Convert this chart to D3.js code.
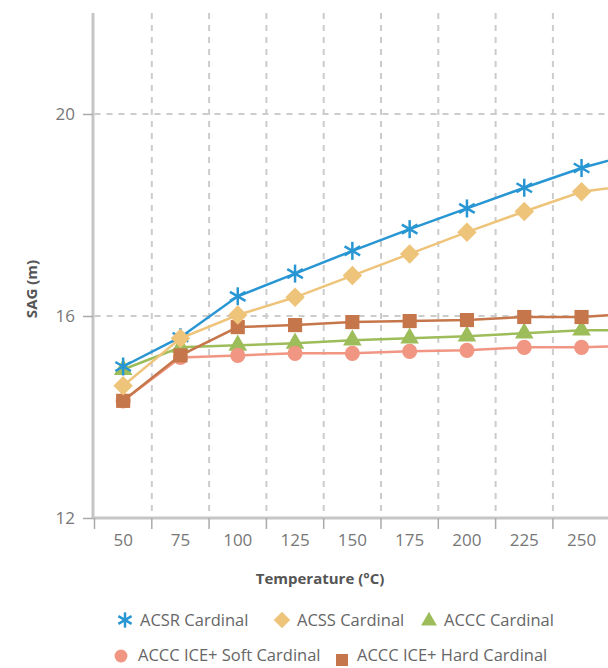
<!DOCTYPE html>
<html>
<head>
<meta charset="utf-8">
<script src="https://cdn.jsdelivr.net/npm/d3@7"></script>
<style>
  html, body { margin: 0; padding: 0; background: #fff; overflow: hidden; }
  svg { display: block; font-family: "Open Sans", "Noto Sans", sans-serif; }
</style>
</head>
<body>
<svg id="chart" width="608" height="668"></svg>
<script>
// ---- data ----
const temperatures = [50, 75, 100, 125, 150, 175, 200, 225, 250, 275];
const acsrCardinal = [15.00, 15.58, 16.39, 16.84, 17.29, 17.72, 18.13, 18.54, 18.93, 19.24];
const acssCardinal = [14.62, 15.56, 16.02, 16.37, 16.80, 17.23, 17.66, 18.07, 18.46, 18.61];
const acccCardinal = [14.94, 15.38, 15.42, 15.46, 15.52, 15.56, 15.60, 15.66, 15.72, 15.72];
const iceSoftCardinal = [14.32, 15.18, 15.22, 15.26, 15.26, 15.30, 15.32, 15.38, 15.38, 15.42];
const iceHardCardinal = [14.32, 15.22, 15.78, 15.82, 15.88, 15.90, 15.92, 15.98, 15.98, 16.06];
const xTickLabels = [50, 75, 100, 125, 150, 175, 200, 225, 250];
const yTicks = [12, 16, 20];
const seriesNames = ["ACSR Cardinal", "ACSS Cardinal", "ACCC Cardinal", "ACCC ICE+ Soft Cardinal", "ACCC ICE+ Hard Cardinal"];

const series = [
  { name: seriesNames[2], values: acccCardinal, color: "#9dbd5b", symbol: "triangle" },
  { name: seriesNames[3], values: iceSoftCardinal, color: "#f09682", symbol: "circle" },
  { name: seriesNames[4], values: iceHardCardinal, color: "#c6764b", symbol: "square" },
  { name: seriesNames[0], values: acsrCardinal, color: "#2896d3", symbol: "asterisk" },
  { name: seriesNames[1], values: acssCardinal, color: "#eec47a", symbol: "diamond" }
];

const svg = d3.select("#chart").style("overflow", "hidden");
const left = 94.5, step = 57.3;
const x = d3.scaleBand().domain(temperatures).range([left, left + step * temperatures.length]).padding(0);
const y = d3.scaleLinear().domain([12, 22]).range([518, 13]);

const gridColor = "#cccccc";
const axisColor = "#c6c6c6";

// gridlines
const grid = svg.append("g");
grid.selectAll("line.v").data(temperatures.slice(1)).join("line")
  .attr("x1", d => x(d)).attr("x2", d => x(d))
  .attr("y1", y(22)).attr("y2", y(12))
  .attr("stroke", gridColor).attr("stroke-width", 2).attr("stroke-dasharray", "6,6");
grid.selectAll("line.h").data(yTicks.filter(t => t !== 12)).join("line")
  .attr("x1", left).attr("x2", 700)
  .attr("y1", d => y(d)).attr("y2", d => y(d))
  .attr("stroke", gridColor).attr("stroke-width", 2).attr("stroke-dasharray", "6,6");

// y axis
const yAxis = svg.append("g").attr("transform", `translate(${93},0)`)
  .call(d3.axisLeft(y).tickValues(yTicks).tickSize(10).tickPadding(8));
yAxis.select(".domain").attr("stroke", axisColor).attr("stroke-width", 3).attr("d", `M0,${y(22)}V${y(12)}`);
yAxis.selectAll(".tick line").attr("stroke", "#aaa").attr("stroke-width", 1.5);
yAxis.selectAll(".tick text").attr("fill", "#777").style("font-size", "17px").style("font-family", "Open Sans, sans-serif");

// x axis
const xAxisG = svg.append("g").attr("transform", `translate(0,${518})`);
xAxisG.append("line").attr("x1", 93).attr("x2", 700).attr("y1", 0).attr("y2", 0)
  .attr("stroke", axisColor).attr("stroke-width", 3);
xAxisG.selectAll("line.tk").data(xTickLabels).join("line")
  .attr("x1", d => x(d)).attr("x2", d => x(d)).attr("y1", 0).attr("y2", 11)
  .attr("stroke", "#aaa").attr("stroke-width", 1.5);
xAxisG.selectAll("text.tl").data(xTickLabels).join("text")
  .attr("x", d => x(d) + x.bandwidth() / 2).attr("y", 28)
  .attr("text-anchor", "middle").attr("fill", "#777").style("font-size", "17px")
  .text(d => d);

// axis titles
svg.append("text").attr("x", 320).attr("y", 584).attr("text-anchor", "middle")
  .attr("fill", "#555").style("font-size", "15px").style("font-weight", "bold")
  .text("Temperature (°C)");
svg.append("text").attr("transform", `translate(37,289) rotate(-90)`).attr("text-anchor", "middle")
  .attr("fill", "#555").style("font-size", "15px").style("font-weight", "bold")
  .text("SAG (m)");

// symbols
function drawSymbol(g, type, color, cx, cy, scale) {
  const s = scale || 1;
  if (type === "asterisk") {
    const r = 9 * s;
    const p = g.append("g").attr("transform", `translate(${cx},${cy})`);
    [0, 60, 120].forEach(a => {
      const rad = a * Math.PI / 180 + Math.PI / 2;
      p.append("line").attr("x1", -r * Math.cos(rad)).attr("y1", -r * Math.sin(rad))
        .attr("x2", r * Math.cos(rad)).attr("y2", r * Math.sin(rad))
        .attr("stroke", color).attr("stroke-width", 2.5);
    });
  } else {
    const map = { triangle: d3.symbolTriangle, circle: d3.symbolCircle, square: d3.symbolSquare, diamond: d3.symbolSquare };
    const sizes = { triangle: 150, circle: 180, square: 200, diamond: 190 };
    g.append("path").attr("d", d3.symbol().type(map[type]).size(sizes[type] * s * s)())
      .attr("transform", `translate(${cx},${cy})` + (type === "diamond" ? " rotate(45)" : ""))
      .attr("fill", color);
  }
}

const line = d3.line().x((d, i) => x(temperatures[i]) + x.bandwidth() / 2).y(d => y(d));
series.forEach(s => {
  const g = svg.append("g");
  g.append("path").datum(s.values).attr("d", line).attr("fill", "none")
    .attr("stroke", s.color).attr("stroke-width", 2.5);
  s.values.forEach((v, i) => drawSymbol(g, s.symbol, s.color, x(temperatures[i]) + x.bandwidth() / 2, y(v)));
});

// legend
const legendItems = [
  { name: seriesNames[0], symbol: "asterisk", color: "#2896d3", sx: 125, sy: 620, ty: 620, tx: 140 },
  { name: seriesNames[1], symbol: "diamond", color: "#eec47a", sx: 282, sy: 620, ty: 620, tx: 297 },
  { name: seriesNames[2], symbol: "triangle", color: "#9dbd5b", sx: 429, sy: 621, ty: 620, tx: 444 },
  { name: seriesNames[3], symbol: "circle", color: "#f09682", sx: 121, sy: 656, ty: 655, tx: 138 },
  { name: seriesNames[4], symbol: "square", color: "#c6764b", sx: 342, sy: 660, ty: 655, tx: 357 }
];
const lg = svg.append("g");
legendItems.forEach(it => {
  drawSymbol(lg, it.symbol, it.color, it.sx, it.sy, 0.85);
  lg.append("text").attr("x", it.tx).attr("y", it.ty).attr("dy", "0.35em")
    .attr("fill", "#666").style("font-size", "16.5px").text(it.name);
});
</script>
</body>
</html>
